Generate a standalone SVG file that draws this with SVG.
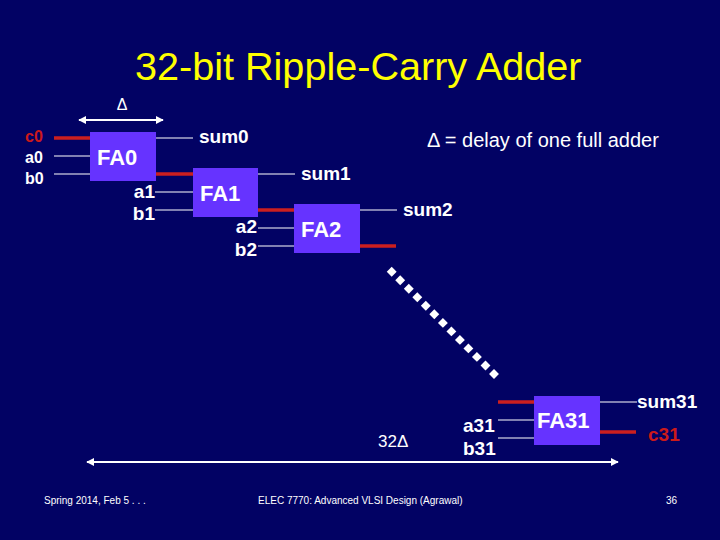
<svg xmlns="http://www.w3.org/2000/svg" width="720" height="540" viewBox="0 0 720 540">
<defs>
<style>
.fa{fill:#6633ff}
.fat{font-family:"Liberation Sans",Arial,sans-serif;font-weight:bold;font-size:22px;fill:#ffffff}
.w{stroke:#ffffff;stroke-width:1.2;fill:none}
.r{stroke:#cc1f1f;stroke-width:3.5;fill:none}
.lb{font-family:"Liberation Sans",Arial,sans-serif;font-weight:bold;fill:#ffffff}
.lr{font-family:"Liberation Sans",Arial,sans-serif;font-weight:bold;fill:#cc1a1a}
.n{font-family:"Liberation Sans",Arial,sans-serif;fill:#ffffff}
.arr{stroke:#ffffff;stroke-width:2;fill:none;marker-start:url(#ah);marker-end:url(#ah)}
.dm{fill:#ffffff}
</style>
<marker id="ah" viewBox="0 0 10 10" refX="9" refY="5" markerWidth="4" markerHeight="4" orient="auto-start-reverse" markerUnits="strokeWidth">
<path d="M0,0 L10,5 L0,10 z" fill="#ffffff"/>
</marker>
</defs>
<rect x="0" y="0" width="720" height="540" fill="#020264"/>
<text x="135" y="80" font-family="'Liberation Sans',Arial,sans-serif" font-size="39.6" fill="#ffff00">32-bit Ripple-Carry Adder</text>
<text x="427" y="147" class="n" font-size="20">Δ = delay of one full adder</text>

<g id="connectors">
<line class="r" x1="54" y1="138" x2="90" y2="138"/>
<line class="w" x1="54" y1="156" x2="90" y2="156"/>
<line class="w" x1="54" y1="174" x2="90" y2="174"/>
<line class="w" x1="156" y1="138" x2="193" y2="138"/>
<line class="r" x1="156" y1="174" x2="193" y2="174"/>
<line class="w" x1="155" y1="192" x2="193" y2="192"/>
<line class="w" x1="155" y1="210" x2="193" y2="210"/>
<line class="w" x1="258" y1="174" x2="295" y2="174"/>
<line class="r" x1="258" y1="210" x2="294" y2="210"/>
<line class="w" x1="258" y1="228" x2="294" y2="228"/>
<line class="w" x1="258" y1="246" x2="294" y2="246"/>
<line class="w" x1="360" y1="210" x2="397" y2="210"/>
<line class="r" x1="360" y1="246" x2="396" y2="246"/>
<line class="r" x1="498" y1="402" x2="534" y2="402"/>
<line class="w" x1="498" y1="420" x2="534" y2="420"/>
<line class="w" x1="498" y1="438" x2="534" y2="438"/>
<line class="w" x1="600" y1="402" x2="637" y2="402"/>
<line class="r" x1="600" y1="432" x2="636" y2="432"/>
<line class="arr" x1="79" y1="120" x2="163" y2="120"/>
<line class="arr" x1="87" y1="462" x2="618" y2="462"/>
</g>

<g id="FA0"><rect class="fa" x="90" y="132" width="66" height="49"/><text class="fat" x="97" y="165">FA0</text></g>
<g id="FA1"><rect class="fa" x="193" y="168" width="65" height="49"/><text class="fat" x="200" y="201">FA1</text></g>
<g id="FA2"><rect class="fa" x="294" y="204" width="66" height="49"/><text class="fat" x="301" y="237">FA2</text></g>
<g id="FA31"><rect class="fa" x="534" y="396" width="66" height="49"/><text class="fat" x="537" y="428">FA31</text></g>

<g id="labels">
<text class="n" x="122" y="110" font-size="16" text-anchor="middle">Δ</text>
<text class="lr" x="25" y="142" font-size="16">c0</text>
<text class="lb" x="25" y="163" font-size="16">a0</text>
<text class="lb" x="25" y="184" font-size="16">b0</text>
<text class="lb" x="199" y="143" font-size="19">sum0</text>
<text class="lb" x="155" y="198" font-size="19" text-anchor="end">a1</text>
<text class="lb" x="155" y="220" font-size="19" text-anchor="end">b1</text>
<text class="lb" x="301" y="180" font-size="19">sum1</text>
<text class="lb" x="257" y="233" font-size="19" text-anchor="end">a2</text>
<text class="lb" x="257" y="256" font-size="19" text-anchor="end">b2</text>
<text class="lb" x="403" y="216" font-size="19">sum2</text>
<text class="lb" x="463" y="432" font-size="19">a31</text>
<text class="lb" x="463" y="455" font-size="19">b31</text>
<text class="lb" x="637" y="408" font-size="19">sum31</text>
<text class="lr" x="648" y="441" font-size="19">c31</text>
<text class="n" x="378" y="447" font-size="17">32Δ</text>
</g>

<g id="dots">
<rect class="dm" x="-3.5" y="-3.5" width="7" height="7" transform="translate(391.7,271.7) rotate(45)"/>
<rect class="dm" x="-3.5" y="-3.5" width="7" height="7" transform="translate(400.2,280.2) rotate(45)"/>
<rect class="dm" x="-3.5" y="-3.5" width="7" height="7" transform="translate(408.8,288.8) rotate(45)"/>
<rect class="dm" x="-3.5" y="-3.5" width="7" height="7" transform="translate(417.3,297.3) rotate(45)"/>
<rect class="dm" x="-3.5" y="-3.5" width="7" height="7" transform="translate(425.8,305.8) rotate(45)"/>
<rect class="dm" x="-3.5" y="-3.5" width="7" height="7" transform="translate(434.3,314.3) rotate(45)"/>
<rect class="dm" x="-3.5" y="-3.5" width="7" height="7" transform="translate(442.9,322.9) rotate(45)"/>
<rect class="dm" x="-3.5" y="-3.5" width="7" height="7" transform="translate(451.4,331.4) rotate(45)"/>
<rect class="dm" x="-3.5" y="-3.5" width="7" height="7" transform="translate(459.9,339.9) rotate(45)"/>
<rect class="dm" x="-3.5" y="-3.5" width="7" height="7" transform="translate(468.4,348.4) rotate(45)"/>
<rect class="dm" x="-3.5" y="-3.5" width="7" height="7" transform="translate(476.9,356.9) rotate(45)"/>
<rect class="dm" x="-3.5" y="-3.5" width="7" height="7" transform="translate(485.5,365.5) rotate(45)"/>
<rect class="dm" x="-3.5" y="-3.5" width="7" height="7" transform="translate(494,374) rotate(45)"/>
</g>

<g id="footer">
<text class="n" x="44" y="504" font-size="10">Spring 2014, Feb 5 . . .</text>
<text class="n" x="258" y="504" font-size="10">ELEC 7770: Advanced VLSI Design (Agrawal)</text>
<text class="n" x="666" y="504" font-size="10">36</text>
</g>
</svg>
